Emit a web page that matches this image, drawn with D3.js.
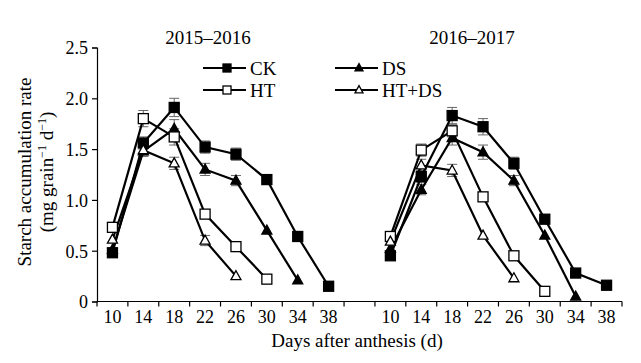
<!DOCTYPE html>
<html>
<head>
<meta charset="utf-8">
<script src="https://cdn.jsdelivr.net/npm/d3@7"></script>
<style>
  body { margin: 0; background: #fff; }
</style>
</head>
<body>
<div id="chart"></div>
<script>
// days after anthesis, one panel per season
const days = [10, 14, 18, 22, 26, 30, 34, 38];
const seasons = ["2015–2016", "2016–2017"];
const treatments = ["CK", "HT", "DS", "HT+DS"];

// starch accumulation rate, 2015-2016
const ck1 = [0.48, 1.56, 1.91, 1.52, 1.45, 1.20, 0.64, 0.15];
const ht1 = [0.73, 1.80, 1.62, 0.86, 0.54, 0.22];
const ds1 = [0.51, 1.48, 1.70, 1.30, 1.19, 0.70, 0.21];
const htds1 = [0.61, 1.49, 1.36, 0.60, 0.25];
// 2016-2017
const ck2 = [0.45, 1.23, 1.83, 1.72, 1.36, 0.81, 0.28, 0.16];
const ht2 = [0.64, 1.49, 1.68, 1.03, 0.45, 0.10];
const ds2 = [0.52, 1.10, 1.61, 1.47, 1.19, 0.65, 0.05];
const htds2 = [0.59, 1.34, 1.29, 0.65, 0.23];

// error bars (SE)
const ck1e = [0.02, 0.06, 0.09, 0.06, 0.06, 0.04, 0.02, 0.02];
const ht1e = [0.03, 0.08, 0.08, 0.03, 0.02, 0.02];
const ds1e = [0.02, 0.05, 0.09, 0.06, 0.05, 0.03, 0.02];
const htds1e = [0.02, 0.06, 0.06, 0.05, 0.02];
const ck2e = [0.02, 0.06, 0.08, 0.08, 0.06, 0.03, 0.02, 0.02];
const ht2e = [0.03, 0.06, 0.06, 0.03, 0.02, 0.02];
const ds2e = [0.02, 0.05, 0.07, 0.07, 0.05, 0.03, 0.02];
const htds2e = [0.02, 0.06, 0.06, 0.03, 0.02];

const yTicks = [0, 0.5, 1.0, 1.5, 2.0, 2.5];

const FONT = "'Liberation Serif', 'Times New Roman', Times, serif";

const panels = [
  {key: "a", title: seasons[0], tx: 208, series: [
    {name: "CK", v: ck1, e: ck1e}, {name: "DS", v: ds1, e: ds1e},
    {name: "HT", v: ht1, e: ht1e}, {name: "HT+DS", v: htds1, e: htds1e}]},
  {key: "b", title: seasons[1], tx: 472, series: [
    {name: "CK", v: ck2, e: ck2e}, {name: "DS", v: ds2, e: ds2e},
    {name: "HT", v: ht2, e: ht2e}, {name: "HT+DS", v: htds2, e: htds2e}]}
];

const width = 641, height = 363;
const svg = d3.select("#chart").append("svg")
    .attr("width", width).attr("height", height);

// band keys: 8 days, one empty gap, 8 days
const keys = days.map(d => "a" + d).concat(["gap"], days.map(d => "b" + d));
const x = d3.scaleBand().domain(keys).range([97, 622]).padding(0);
const y = d3.scaleLinear().domain([0, 2.5]).range([301.5, 47.5]);

// y axis
const yAxis = svg.append("g")
    .attr("transform", "translate(97,0)")
    .call(d3.axisLeft(y).tickValues(yTicks).tickSize(5).tickPadding(4)
      .tickFormat(d => d === 0 ? "0" : d3.format(".1f")(d)));
yAxis.select(".domain").attr("stroke", "#000").attr("stroke-width", 1.2);
yAxis.selectAll(".tick line").attr("stroke", "#000").attr("stroke-width", 1.2);
yAxis.selectAll(".tick text").attr("dy", "0.36em").style("font-size", "18px");

// x axis: line, ticks at band boundaries, labels at band centres
const xg = svg.append("g");
xg.append("line")
    .attr("x1", x.range()[0]).attr("x2", x.range()[1])
    .attr("y1", y(0)).attr("y2", y(0))
    .attr("stroke", "#000").attr("stroke-width", 1.2);
const bounds = keys.map(k => x(k)).concat([x.range()[1]]);
xg.selectAll(".xtick").data(bounds).enter().append("line")
    .attr("x1", d => d).attr("x2", d => d)
    .attr("y1", y(0)).attr("y2", y(0) + 5)
    .attr("stroke", "#000").attr("stroke-width", 1.2);
xg.selectAll(".xlab").data(keys.filter(k => k !== "gap")).enter().append("text")
    .attr("x", k => x(k) + x.bandwidth() / 2)
    .attr("y", 323)
    .attr("text-anchor", "middle")
    .style("font-size", "18px")
    .text(k => k.slice(1));

// axis titles
svg.append("text")
    .attr("x", 357).attr("y", 347)
    .attr("text-anchor", "middle").style("font-size", "19px")
    .text("Days after anthesis (d)");
svg.append("text")
    .attr("transform", "translate(31,172) rotate(-90)")
    .attr("text-anchor", "middle").style("font-size", "19px")
    .text("Starch accumulation rate");
const yl2 = svg.append("text")
    .attr("transform", "translate(53,172) rotate(-90)")
    .attr("text-anchor", "middle").style("font-size", "19px");
yl2.append("tspan").text("(mg grain");
yl2.append("tspan").attr("dy", -7).style("font-size", "12px").text("−1");
yl2.append("tspan").attr("dy", 7).text(" d");
yl2.append("tspan").attr("dy", -7).style("font-size", "12px").text("−1");
yl2.append("tspan").attr("dy", 7).text(")");

function marker(g, name, cx, cy, s) {
  const filled = name === "CK" || name === "DS";
  if (name === "CK" || name === "HT") {
    g.append("rect").attr("x", cx - s / 2).attr("y", cy - s / 2)
      .attr("width", s).attr("height", s)
      .attr("fill", filled ? "#000" : "#fff")
      .attr("stroke", "#000").attr("stroke-width", 1.3);
  } else {
    const h = s * 0.9;
    g.append("path")
      .attr("d", `M${cx},${cy - h * 0.6}L${cx + s / 2},${cy + h * 0.4}L${cx - s / 2},${cy + h * 0.4}Z`)
      .attr("fill", filled ? "#000" : "#fff")
      .attr("stroke", "#000").attr("stroke-width", 1.3);
  }
}

const line = d3.line();

panels.forEach(p => {
  const cx = d => x(p.key + d) + x.bandwidth() / 2;
  svg.append("text")
    .attr("x", p.tx).attr("y", 44)
    .attr("text-anchor", "middle").style("font-size", "19px")
    .text(p.title);

  const g = svg.append("g");
  // error bars
  p.series.forEach(s => {
    s.v.forEach((v, i) => {
      const e = s.e[i];
      if (e < 0.04) return;
      const px = cx(days[i]);
      g.append("line").attr("x1", px).attr("x2", px)
        .attr("y1", y(v - e)).attr("y2", y(v + e))
        .attr("stroke", "#666").attr("stroke-width", 1);
      [v - e, v + e].forEach(t => {
        g.append("line").attr("x1", px - 5).attr("x2", px + 5)
          .attr("y1", y(t)).attr("y2", y(t))
          .attr("stroke", "#666").attr("stroke-width", 1);
      });
    });
  });
  // lines
  p.series.forEach(s => {
    g.append("path")
      .attr("d", line(s.v.map((v, i) => [cx(days[i]), y(v)])))
      .attr("fill", "none").attr("stroke", "#000").attr("stroke-width", 2.2);
  });
  // markers
  p.series.forEach(s => {
    s.v.forEach((v, i) => marker(g, s.name, cx(days[i]), y(v), 10));
  });
});

// legend
const legend = [
  {name: "CK", x: 203, y: 68}, {name: "HT", x: 203, y: 90},
  {name: "DS", x: 335, y: 68}, {name: "HT+DS", x: 335, y: 90}
];
const lg = svg.append("g");
legend.forEach(l => {
  lg.append("line").attr("x1", l.x).attr("x2", l.x + 43)
    .attr("y1", l.y).attr("y2", l.y)
    .attr("stroke", "#000").attr("stroke-width", 2);
  marker(lg, l.name, l.x + 24, l.y, 8);
  lg.append("text").attr("x", l.x + 47).attr("y", l.y + 7)
    .style("font-size", "19px").text(l.name);
});

svg.selectAll("text").style("font-family", FONT).attr("fill", "#000");
</script>
</body>
</html>
